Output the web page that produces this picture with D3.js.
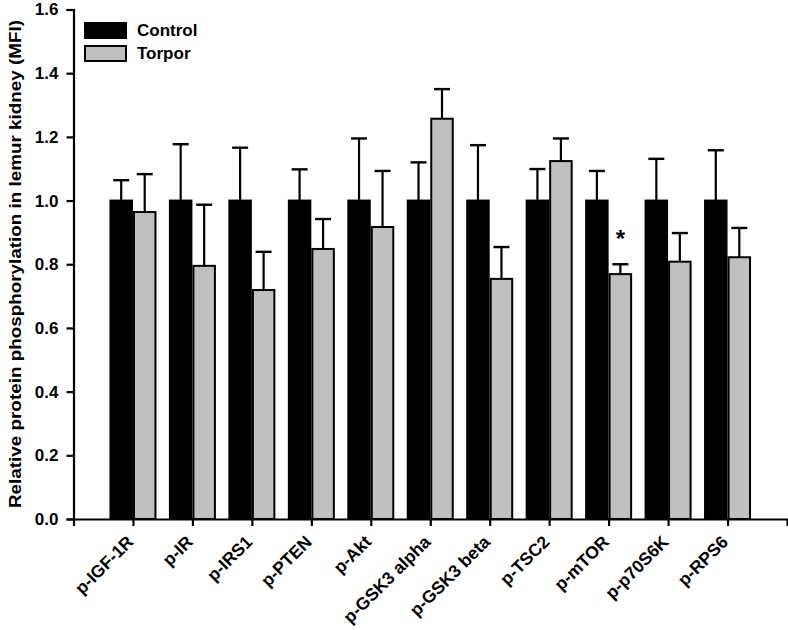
<!DOCTYPE html>
<html><head><meta charset="utf-8">
<script src="https://cdn.jsdelivr.net/npm/d3@7"></script>
<style>body{margin:0;background:#fff}svg{display:block}text{font-family:"Liberation Sans",Arial,sans-serif;font-weight:bold}</style>
</head><body><svg id="c" width="788" height="630"></svg>
<script>
const categories = ["p-IGF-1R","p-IR","p-IRS1","p-PTEN","p-Akt","p-GSK3 alpha","p-GSK3 beta","p-TSC2","p-mTOR","p-p70S6K","p-RPS6"];
const series = ["Control","Torpor"];
const controlMean = [1,1,1,1,1,1,1,1,1,1,1];
const controlErr  = [1.064,1.177,1.166,1.098,1.195,1.120,1.174,1.099,1.093,1.131,1.158];
const torporMean  = [0.964,0.795,0.719,0.848,0.917,1.257,0.754,1.124,0.769,0.808,0.822];
const torporErr   = [1.083,0.987,0.839,0.942,1.093,1.350,0.854,1.195,0.800,0.898,0.914];
const significant = [false,false,false,false,false,false,false,false,true,false,false];
const yTicks = [0,0.2,0.4,0.6,0.8,1.0,1.2,1.4,1.6];
const colors = {"Control":"#000000","Torpor":"#c0c0c0"};

(function(){
const svg = d3.select("#c");
const mL = 73.5, mR = 787, mT = 9.5, mB = 519;
const x = d3.scalePoint().domain(categories).range([mL, mR]).padding(1);
const xs = d3.scaleBand().domain(series).range([-23.5, 23.5]).padding(0);
const y = d3.scaleLinear().domain([0,1.6]).range([mB, mT]);

const data = categories.map((c,i)=>({c, vals:[
  {s:"Control", m:controlMean[i], e:controlErr[i]},
  {s:"Torpor", m:torporMean[i], e:torporErr[i]}], sig:significant[i]}));

const g = svg.append("g");
const grp = g.selectAll(".grp").data(data).join("g").attr("transform", d=>`translate(${x(d.c)},0)`);
grp.selectAll(".err").data(d=>d.vals).join("g").each(function(d){
  const cx = xs(d.s) + xs.bandwidth()/2;
  const e = d3.select(this);
  e.append("line").attr("x1",cx).attr("x2",cx).attr("y1",y(d.m)).attr("y2",y(d.e)).attr("stroke","#000").attr("stroke-width",2.2);
  e.append("line").attr("x1",cx-8).attr("x2",cx+8).attr("y1",y(d.e)).attr("y2",y(d.e)).attr("stroke","#000").attr("stroke-width",2.4);
});
grp.selectAll("rect").data(d=>d.vals).join("rect")
  .attr("x", d=>xs(d.s)+1).attr("width", xs.bandwidth()-2)
  .attr("y", d=>y(d.m)).attr("height", d=>y(0)-y(d.m))
  .attr("fill", d=>colors[d.s]).attr("stroke","#000").attr("stroke-width",2);
grp.filter(d=>d.sig).append("text")
  .attr("x", xs("Torpor")+xs.bandwidth()/2).attr("y", d=>y(d.vals[1].e)-17)
  .attr("text-anchor","middle").attr("font-size",24).text("*");

const ya = svg.append("g").attr("transform",`translate(${mL},0)`)
  .call(d3.axisLeft(y).tickValues(yTicks).tickFormat(d3.format(".1f")).tickSizeOuter(0).tickSize(7).tickPadding(8));
ya.select(".domain").attr("stroke-width",2.2);
ya.selectAll(".tick line").attr("stroke-width",2.2);
ya.selectAll("text").attr("font-size",17).attr("fill","#000");

const xa = svg.append("g").attr("transform",`translate(0,${mB})`)
  .call(d3.axisBottom(x).tickSizeOuter(0).tickSize(7));
xa.select(".domain").attr("stroke-width",2.2);
xa.selectAll(".tick line").attr("stroke-width",2.2);
xa.selectAll("text").attr("font-size",17.5).attr("fill","#000")
  .attr("text-anchor","end").attr("dy",0).attr("y",0)
  .attr("transform","translate(1,24) rotate(-45)");

svg.append("text").attr("transform",`translate(21,264) rotate(-90)`)
  .attr("text-anchor","middle").attr("font-size",17)
  .attr("textLength",488).attr("lengthAdjust","spacingAndGlyphs")
  .text("Relative protein phosphorylation in lemur kidney (MFI)");

const lg = svg.append("g").attr("transform","translate(85,23)");
series.forEach((s,i)=>{
  lg.append("rect").attr("x",0).attr("y",i*23).attr("width",41).attr("height",15)
    .attr("fill",colors[s]).attr("stroke","#000").attr("stroke-width",2);
  lg.append("text").attr("x",52).attr("y",i*23+13).attr("font-size",17).text(s);
});
})();
</script></body></html>
